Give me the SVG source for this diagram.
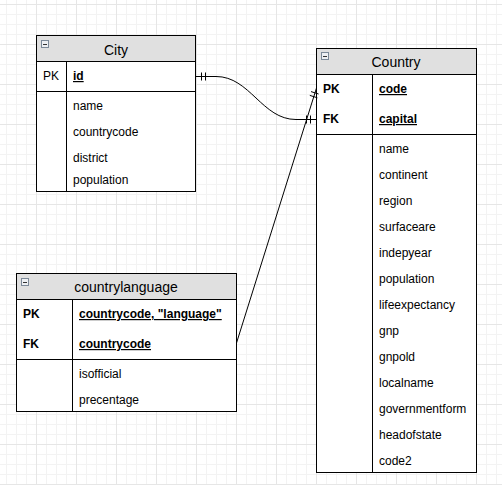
<svg xmlns="http://www.w3.org/2000/svg" width="502" height="485" viewBox="0 0 502 485">
<defs>
<pattern id="grid" x="36" y="4" width="40" height="40" patternUnits="userSpaceOnUse">
<path d="M10.5 0V40M20.5 0V40M30.5 0V40M0 10.5H40M0 20.5H40M0 30.5H40" stroke="#f3f3f3" stroke-width="1" fill="none"/>
<path d="M0.5 0V40M0 0.5H40" stroke="#e6e6e6" stroke-width="1" fill="none"/>
</pattern>
<g id="collapse">
<rect x="0.5" y="0.5" width="7" height="7" fill="#eef0f3" stroke="#7d8a99" stroke-width="1"/>
<path d="M2 4.5H6" stroke="#333" stroke-width="1"/>
</g>
</defs>
<style>
.box{fill:#ffffff;stroke:#000;stroke-width:1}
.hdr{fill:#e0e0e0;stroke:#000;stroke-width:1}
.ln{stroke:#000;stroke-width:1;fill:none}
text{font-family:"Liberation Sans",Arial,Helvetica,sans-serif;fill:#000}
.title{font-size:14px;text-anchor:middle}
.row{font-size:12px}
.b{font-weight:bold}
.u{text-decoration:underline}
.edge{stroke:#000;stroke-width:1;fill:none}
</style>
<rect x="0" y="0" width="502" height="485" fill="#ffffff"/>
<rect x="0" y="0" width="502" height="485" fill="url(#grid)"/>

<g id="city">
<rect class="box" x="36.5" y="35.5" width="159" height="156"/>
<rect class="hdr" x="36.5" y="35.5" width="159" height="26"/>
<use href="#collapse" x="41" y="40"/>
<text class="title" x="116" y="55">City</text>
<path class="ln" d="M36.5 91.5H195.5M66.5 61.5V191.5"/>
<text class="row" x="43" y="80">PK</text>
<text class="row b u" x="73" y="80">id</text>
<text class="row" x="73" y="110">name</text>
<text class="row" x="73" y="136">countrycode</text>
<text class="row" x="73" y="162">district</text>
<text class="row" x="73" y="184">population</text>
</g>

<g id="country">
<rect class="box" x="316.5" y="48.5" width="160" height="424"/>
<rect class="hdr" x="316.5" y="48.5" width="160" height="26"/>
<use href="#collapse" x="321" y="52"/>
<text class="title" x="396" y="67">Country</text>
<path class="ln" d="M316.5 134.5H476.5M372.5 74.5V472.5"/>
<text class="row b" x="323" y="93">PK</text>
<text class="row b u" x="379" y="93">code</text>
<text class="row b" x="323" y="123">FK</text>
<text class="row b u" x="379" y="123">capital</text>
<text class="row" x="379" y="153">name</text>
<text class="row" x="379" y="179">continent</text>
<text class="row" x="379" y="205">region</text>
<text class="row" x="379" y="231">surfaceare</text>
<text class="row" x="379" y="257">indepyear</text>
<text class="row" x="379" y="283">population</text>
<text class="row" x="379" y="309">lifeexpectancy</text>
<text class="row" x="379" y="335">gnp</text>
<text class="row" x="379" y="361">gnpold</text>
<text class="row" x="379" y="387">localname</text>
<text class="row" x="379" y="413">governmentform</text>
<text class="row" x="379" y="439">headofstate</text>
<text class="row" x="379" y="465">code2</text>
</g>

<g id="countrylanguage">
<rect class="box" x="16.5" y="273.5" width="220" height="138"/>
<rect class="hdr" x="16.5" y="273.5" width="220" height="26"/>
<use href="#collapse" x="21" y="278"/>
<text class="title" x="126" y="292">countrylanguage</text>
<path class="ln" d="M16.5 359.5H236.5M72.5 299.5V411.5"/>
<text class="row b" x="23" y="318">PK</text>
<text class="row b u" x="79" y="318">countrycode, "language"</text>
<text class="row b" x="23" y="348">FK</text>
<text class="row b u" x="79" y="348">countrycode</text>
<text class="row" x="79" y="378">isofficial</text>
<text class="row" x="79" y="404">precentage</text>
</g>

<g id="connectors">
<path class="edge" d="M196 76.5L216 76.5C250 76.5 262 119.5 296 119.5L316 119.5"/>
<path class="edge" d="M201.5 72.5V80.5M205.5 72.5V80.5"/>
<path class="edge" d="M310.5 115.5V123.5M306.5 115.5V123.5"/>
<path class="edge" d="M236.5 343L316.5 88"/>
<path class="edge" d="M311 91.6L318.6 94M309.8 95.4L317.4 97.8"/>
</g>
</svg>
